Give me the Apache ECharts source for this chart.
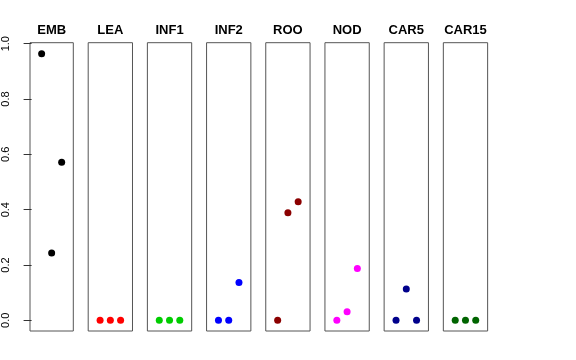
<!DOCTYPE html>
<html><head><meta charset="utf-8">
<script src="https://cdn.jsdelivr.net/npm/echarts@6/dist/echarts.min.js"></script>
<style>html,body{margin:0;padding:0;background:#fff}#c{width:576px;height:360px}</style>
</head><body><div id="c"></div>
<script>
const panels = ['EMB','LEA','INF1','INF2','ROO','NOD','CAR5','CAR15'];
const xPositions = [1, 2, 3];
const EMB = [0.964, 0.243, 0.571];
const LEA = [0, 0, 0];
const INF1 = [0, 0, 0];
const INF2 = [0, 0, 0.137];
const ROO = [0, 0.389, 0.429];
const NOD = [0, 0.031, 0.187];
const CAR5 = [0, 0.113, 0];
const CAR15 = [0, 0, 0];
const values = [EMB, LEA, INF1, INF2, ROO, NOD, CAR5, CAR15];
const colors = ['#000000','#FF0000','#00CD00','#0000FF','#8B0000','#FF00FF','#00008B','#006400'];
const yTicks = [0, 0.2, 0.4, 0.6, 0.8, 1.0];
const yTickLabels = ['0.0','0.2','0.4','0.6','0.8','1.0'];

const chart = echarts.init(document.getElementById('c'), null, {renderer:'canvas'});
const grids=[], xAxes=[], yAxes=[], series=[];
const left0 = 29, step = 59.19, gw = 44.3, gTop = 42.7, gh = 288.3;
const yMin = -0.0386, yMax = 1.0036;
const font = 'Liberation Sans, Arial, sans-serif';
panels.forEach((name, i) => {
  const l = left0 + i*step;
  grids.push({left: l, top: gTop, width: gw, height: gh, show: true, borderColor: '#555', borderWidth: 1, backgroundColor: 'transparent'});
  xAxes.push({gridIndex: i, type: 'value', min: -0.16, max: 4.16, position: 'top',
    name: name, nameLocation: 'middle', nameGap: 6,
    nameTextStyle: {fontFamily: font, fontSize: 13, fontWeight: 'bold', color: '#000'},
    axisLine: {show: false}, axisTick: {show: false}, axisLabel: {show: false}, splitLine: {show: false}});
  yAxes.push({gridIndex: i, type: 'value', min: yMin, max: yMax, show: i === 0,
    axisLine: {show: false}, splitLine: {show: false},
    axisTick: {show: true, length: 8, customValues: yTicks, lineStyle: {color: '#333'}},
    axisLabel: {show: true, customValues: yTicks, rotate: 90, margin: 19, color: '#000',
      fontFamily: font, fontSize: 11,
      formatter: v => yTickLabels[yTicks.findIndex(t => Math.abs(t - v) < 1e-9)] }
  });
  series.push({type: 'scatter', xAxisIndex: i, yAxisIndex: i, symbolSize: 7,
    itemStyle: {color: colors[i], opacity: 1},
    data: xPositions.map((x, k) => [x, values[i][k]]), silent: true, animation: false});
});
chart.setOption({animation: false, grid: grids, xAxis: xAxes, yAxis: yAxes, series: series});
</script></body></html>
